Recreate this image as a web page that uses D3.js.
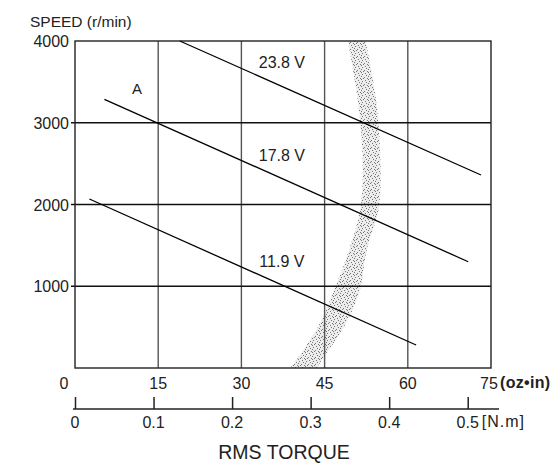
<!DOCTYPE html>
<html>
<head>
<meta charset="utf-8">
<script src="https://cdn.jsdelivr.net/npm/d3@7"></script>
<style>
	body { margin: 0; background: white; }
	text { font-family: "Liberation Sans", Arial, sans-serif; fill: #222; }
</style>
</head>
<body>
<div id="chart"></div>
<script>
// Speed / torque lines, one per supply voltage
var seriesNames = ["23.8 V", "17.8 V", "11.9 V"];
var seriesTorque = [[18.9, 73.2], [5.3, 70.9], [2.6, 61.5]];
var seriesSpeed = [[4000, 2361], [3287, 1300], [2067, 281]];
// Where the voltage labels sit along the torque axis
var labelTorque = 37.3;
// Point A
var pointA = { torque: 11.2, speed: 3413, name: "A" };
// Stippled band (left and right torque edge for each speed)
var bandSpeed = [4000, 3315, 2667, 1969, 1443, 917, 502, 98, 0];
var bandLeft = [49.2, 50.9, 51.8, 51.5, 49.4, 46.5, 43.8, 39.9, 38.8];
var bandRight = [52.4, 54.2, 55.0, 54.8, 52.6, 51.2, 48.5, 44.5, 43.6];
// Ticks
var speedTicks = [0, 1000, 2000, 3000, 4000];
var torqueTicks = [0, 15, 30, 45, 60, 75];
var newtonTicks = [0, 0.1, 0.2, 0.3, 0.4, 0.5];
var ozInPerNm = 141.6;

// Canvas parameters
var canvas = {
	width: 556,
	height: 465,
	left: 75,
	right: 491,
	top: 41,
	bottom: 368
};

var x = d3.scaleLinear().domain([0, 75]).range([canvas.left, canvas.right]);
var y = d3.scaleLinear().domain([0, 4000]).range([canvas.bottom, canvas.top]);

var svg = d3.select("#chart")
	.append("svg")
	.attr("width", canvas.width)
	.attr("height", canvas.height);

// Stipple pattern for the band
var pat = svg.append("defs")
	.append("pattern")
	.attr("id", "stipple")
	.attr("patternUnits", "userSpaceOnUse")
	.attr("width", 7)
	.attr("height", 7);
pat.append("rect").attr("width", 7).attr("height", 7).attr("fill", "#ececec");
[[0, 0], [3, 1], [1, 3], [5, 4], [6, 1], [2, 5], [4, 6], [4, 2]].forEach(function(p) {
	pat.append("rect")
		.attr("x", p[0]).attr("y", p[1])
		.attr("width", 1).attr("height", 1)
		.attr("fill", "#777");
});

// Band
var band = bandSpeed.map(function(s, i) {
	return { s: s, l: bandLeft[i], r: bandRight[i] };
});
svg.append("path")
	.datum(band)
	.attr("d", d3.area()
		.curve(d3.curveCatmullRom)
		.y(function(d) { return y(d.s); })
		.x0(function(d) { return x(d.l); })
		.x1(function(d) { return x(d.r); }))
	.attr("fill", "url(#stipple)")
	.attr("stroke", "none");

// Grid
svg.selectAll("vgrid")
	.data(torqueTicks.slice(1, 5))
	.enter()
	.append("line")
	.attr("x1", function(d) { return x(d); })
	.attr("x2", function(d) { return x(d); })
	.attr("y1", canvas.top)
	.attr("y2", canvas.bottom)
	.attr("stroke", "#555")
	.attr("stroke-width", 1.4);
svg.selectAll("hgrid")
	.data(speedTicks.slice(1, 4))
	.enter()
	.append("line")
	.attr("x1", canvas.left - 4)
	.attr("x2", canvas.right)
	.attr("y1", function(d) { return y(d); })
	.attr("y2", function(d) { return y(d); })
	.attr("stroke", "#111")
	.attr("stroke-width", 1.3);
// Frame
svg.append("rect")
	.attr("x", canvas.left)
	.attr("y", canvas.top)
	.attr("width", canvas.right - canvas.left)
	.attr("height", canvas.bottom - canvas.top)
	.attr("fill", "none")
	.attr("stroke", "#222")
	.attr("stroke-width", 1.4);

// Voltage lines
svg.selectAll("vline")
	.data(seriesNames)
	.enter()
	.append("line")
	.attr("x1", function(d, i) { return x(seriesTorque[i][0]); })
	.attr("y1", function(d, i) { return y(seriesSpeed[i][0]); })
	.attr("x2", function(d, i) { return x(seriesTorque[i][1]); })
	.attr("y2", function(d, i) { return y(seriesSpeed[i][1]); })
	.attr("stroke", "#000")
	.attr("stroke-width", 1.3);
// Voltage labels
svg.selectAll("vlabel")
	.data(seriesNames)
	.enter()
	.append("text")
	.text(function(d) { return d; })
	.attr("text-anchor", "middle")
	.attr("x", x(labelTorque))
	.attr("y", function(d, i) {
		var t = seriesTorque[i], s = seriesSpeed[i];
		var sp = s[0] + (s[1] - s[0]) * (labelTorque - t[0]) / (t[1] - t[0]);
		return y(sp) - 18;
	})
	.attr("font-size", "16px");
svg.append("text")
	.text(pointA.name)
	.attr("text-anchor", "middle")
	.attr("x", x(pointA.torque))
	.attr("y", y(pointA.speed) + 5)
	.attr("font-size", "15px");

// Speed axis labels
svg.selectAll("ylabel")
	.data(speedTicks.slice(1))
	.enter()
	.append("text")
	.text(function(d) { return d; })
	.attr("text-anchor", "end")
	.attr("x", canvas.left - 6)
	.attr("y", function(d) { return y(d) + 6; })
	.attr("font-size", "16px");
svg.append("text")
	.text("SPEED (r/min)")
	.attr("x", 30)
	.attr("y", 27)
	.attr("font-size", "15.5px");

// Torque (oz-in) labels
svg.selectAll("xlabel")
	.data(torqueTicks)
	.enter()
	.append("text")
	.text(function(d) { return d; })
	.attr("text-anchor", "middle")
	.attr("x", function(d) { return d === 0 ? x(d) - 11 : (d === 75 ? x(d) - 2 : x(d)); })
	.attr("y", 389)
	.attr("font-size", "16px");
svg.append("text")
	.text("(oz•in)")
	.attr("x", x(75) + 9)
	.attr("y", 388)
	.attr("font-size", "16px")
	.attr("font-weight", "bold")
	.attr("letter-spacing", "0.3px");

// Newton-metre axis
var nm = d3.axisTop(d3.scaleLinear()
		.domain([0, 75 / ozInPerNm])
		.range([canvas.left, canvas.right]))
	.tickValues(newtonTicks)
	.tickSize(12)
	.tickFormat("");
var nmAxis = svg.append("g")
	.attr("transform", "translate(0,409)")
	.call(nm);
nmAxis.select(".domain").remove();
nmAxis.selectAll("line").attr("stroke", "#222").attr("stroke-width", 1.5);
svg.append("line")
	.attr("x1", canvas.left - 2)
	.attr("x2", canvas.right + 8)
	.attr("y1", 409)
	.attr("y2", 409)
	.attr("stroke", "#222")
	.attr("stroke-width", 1.5);
svg.selectAll("nmlabel")
	.data(newtonTicks)
	.enter()
	.append("text")
	.text(function(d) { return d; })
	.attr("text-anchor", "middle")
	.attr("x", function(d) { return x(d * ozInPerNm); })
	.attr("y", 428)
	.attr("font-size", "16px");
svg.append("text")
	.text("[N.m]")
	.attr("x", x(0.5 * ozInPerNm) + 14)
	.attr("y", 427)
	.attr("font-size", "16px")
	.attr("letter-spacing", "1px");

// Axis title
svg.append("text")
	.text("RMS TORQUE")
	.attr("text-anchor", "middle")
	.attr("x", 284)
	.attr("y", 459)
	.attr("font-size", "19.5px");
</script>
</body>
</html>
